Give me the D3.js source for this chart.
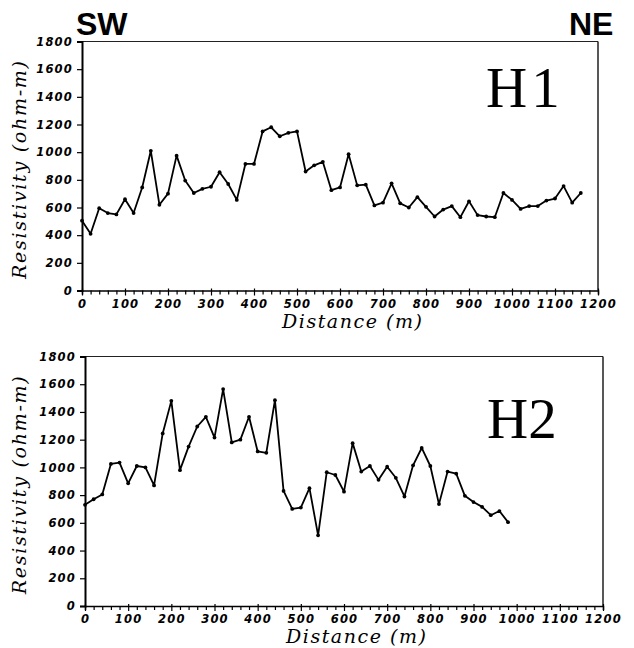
<!DOCTYPE html>
<html lang="en">
<head>
<meta charset="utf-8">
<title>Resistivity profiles H1 / H2</title>
<script src="https://cdn.jsdelivr.net/npm/d3@7"></script>
<style>
  html, body { margin: 0; padding: 0; background: #fff; }
  .tick text { font-family: "DejaVu Sans", sans-serif; font-style: italic; font-weight: bold; font-size: 11.5px; letter-spacing: 1.2px; fill: #000; }
  .axis path, .axis line { stroke: #000; }
  .title { font-family: "DejaVu Serif", serif; font-style: italic; fill: #000; }
  .tag { font-family: "Liberation Sans", Arial, sans-serif; font-weight: bold; font-size: 32px; fill: #000; }
  .panel { font-family: "Liberation Serif", serif; font-size: 57px; fill: #000; }
</style>
</head>
<body>
<script>
// profile H1 (distance in m, resistivity in ohm-m)
var h1Dist = [0,20,40,60,80,100,120,140,160,180,200,220,240,260,280,300,320,340,360,380,
  400,420,440,460,480,500,520,540,560,580,600,620,640,660,680,700,720,740,760,780,
  800,820,840,860,880,900,920,940,960,980,1000,1020,1040,1060,1080,1100,1120,1140,1160];
var h1Res = [505,410,595,560,550,660,560,745,1010,620,700,975,795,705,735,750,855,770,655,915,
  915,1150,1180,1115,1140,1150,860,905,930,725,745,985,760,765,615,635,775,630,600,675,
  605,535,585,610,530,645,545,535,530,705,655,590,610,610,650,665,755,635,705];

// profile H2
var h2Dist = [0,20,40,60,80,100,120,140,160,180,200,220,240,260,280,300,320,340,360,380,
  400,420,440,460,480,500,520,540,560,580,600,620,640,660,680,700,720,740,760,780,
  800,820,840,860,880,900,920,940,960,980];
var h2Res = [730,770,805,1025,1035,885,1010,1000,870,1245,1480,980,1150,1295,1365,1215,1565,1180,1200,1365,
  1115,1105,1485,830,700,710,850,510,965,945,825,1175,970,1010,910,1005,925,790,1015,1140,
  1010,735,970,955,795,750,715,655,685,605];

var xTicks = [0,100,200,300,400,500,600,700,800,900,1000,1100,1200];
var yTicks = [0,200,400,600,800,1000,1200,1400,1600,1800];

var svg = d3.select("body").append("svg")
  .attr("width", 634)
  .attr("height", 648);

function drawPanel(dist, res, box, name, nameBox) {
  var x = d3.scaleLinear().domain([0, 1200]).range([box.left, box.right]);
  var y = d3.scaleLinear().domain([0, 1800]).range([box.bottom, box.top]);

  var g = svg.append("g");

  // frame: top and right edges
  g.append("line")
    .attr("x1", box.left).attr("x2", box.right)
    .attr("y1", box.top).attr("y2", box.top)
    .attr("stroke", "#222").attr("stroke-width", 1.1);
  g.append("line")
    .attr("x1", box.right).attr("x2", box.right)
    .attr("y1", box.top).attr("y2", box.bottom)
    .attr("stroke", "#111").attr("stroke-width", 1.4);

  // minor ticks every 20 m, labels only on the hundreds
  var minor = d3.range(0, 1201, 20);
  var xAxis = d3.axisBottom(x)
    .tickValues(minor)
    .tickSize(4)
    .tickPadding(5)
    .tickFormat(function(d) { return xTicks.indexOf(d) >= 0 ? d : ""; });
  var xa = g.append("g")
    .attr("class", "axis")
    .attr("transform", "translate(0," + box.bottom + ")")
    .call(xAxis);
  xa.select(".domain").attr("stroke-width", 1.5);
  xa.selectAll(".tick line").attr("stroke-width", 1.2)
    .attr("y1", function(d) { return xTicks.indexOf(d) >= 0 ? -2 : 0; })
    .attr("y2", function(d) { return xTicks.indexOf(d) >= 0 ? 5 : 4; });

  var yAxis = d3.axisLeft(y)
    .tickValues(yTicks)
    .tickSize(5)
    .tickPadding(4)
    .tickFormat(d3.format("d"));
  var ya = g.append("g")
    .attr("class", "axis")
    .attr("transform", "translate(" + box.left + ",0)")
    .call(yAxis);
  ya.select(".domain").attr("stroke-width", 2);
  ya.selectAll(".tick line").attr("stroke-width", 1.2);

  // profile line
  var pts = dist.map(function(d, i) { return [d, res[i]]; });
  g.append("path")
    .datum(pts)
    .attr("fill", "none")
    .attr("stroke", "#000")
    .attr("stroke-width", 1.8)
    .attr("stroke-linejoin", "round")
    .attr("d", d3.line()
      .x(function(d) { return x(d[0]); })
      .y(function(d) { return y(d[1]); }));

  g.selectAll("circle.pt")
    .data(pts)
    .enter()
    .append("circle")
    .attr("class", "pt")
    .attr("cx", function(d) { return x(d[0]); })
    .attr("cy", function(d) { return y(d[1]); })
    .attr("r", 1.9)
    .attr("fill", "#000");

  // axis titles
  g.append("text")
    .attr("class", "title")
    .attr("text-anchor", "middle")
    .attr("transform", "translate(26," + ((box.top + box.bottom) / 2 + 4) + ") rotate(-90)")
    .attr("font-size", 19)
    .attr("textLength", 218)
    .text("Resistivity (ohm-m)");

  g.append("text")
    .attr("class", "title")
    .attr("text-anchor", "middle")
    .attr("x", (box.left + box.right) / 2 + 12)
    .attr("y", box.bottom + 37)
    .attr("font-size", 19)
    .attr("textLength", 140)
    .text("Distance (m)");

  // panel name
  g.append("text")
    .attr("class", "panel")
    .attr("x", nameBox.x)
    .attr("y", nameBox.y)
    .attr("letter-spacing", nameBox.spacing)
    .text(name);
}

drawPanel(h1Dist, h1Res, {left: 82, right: 598, top: 41.5, bottom: 290.5}, "H1", {x: 486, y: 107, spacing: 4});
drawPanel(h2Dist, h2Res, {left: 85, right: 603, top: 356.5, bottom: 606}, "H2", {x: 487, y: 438, spacing: 0});

svg.append("text").attr("class", "tag").attr("x", 76).attr("y", 35).text("SW");
svg.append("text").attr("class", "tag").attr("x", 569).attr("y", 35).text("NE");
</script>
</body>
</html>
